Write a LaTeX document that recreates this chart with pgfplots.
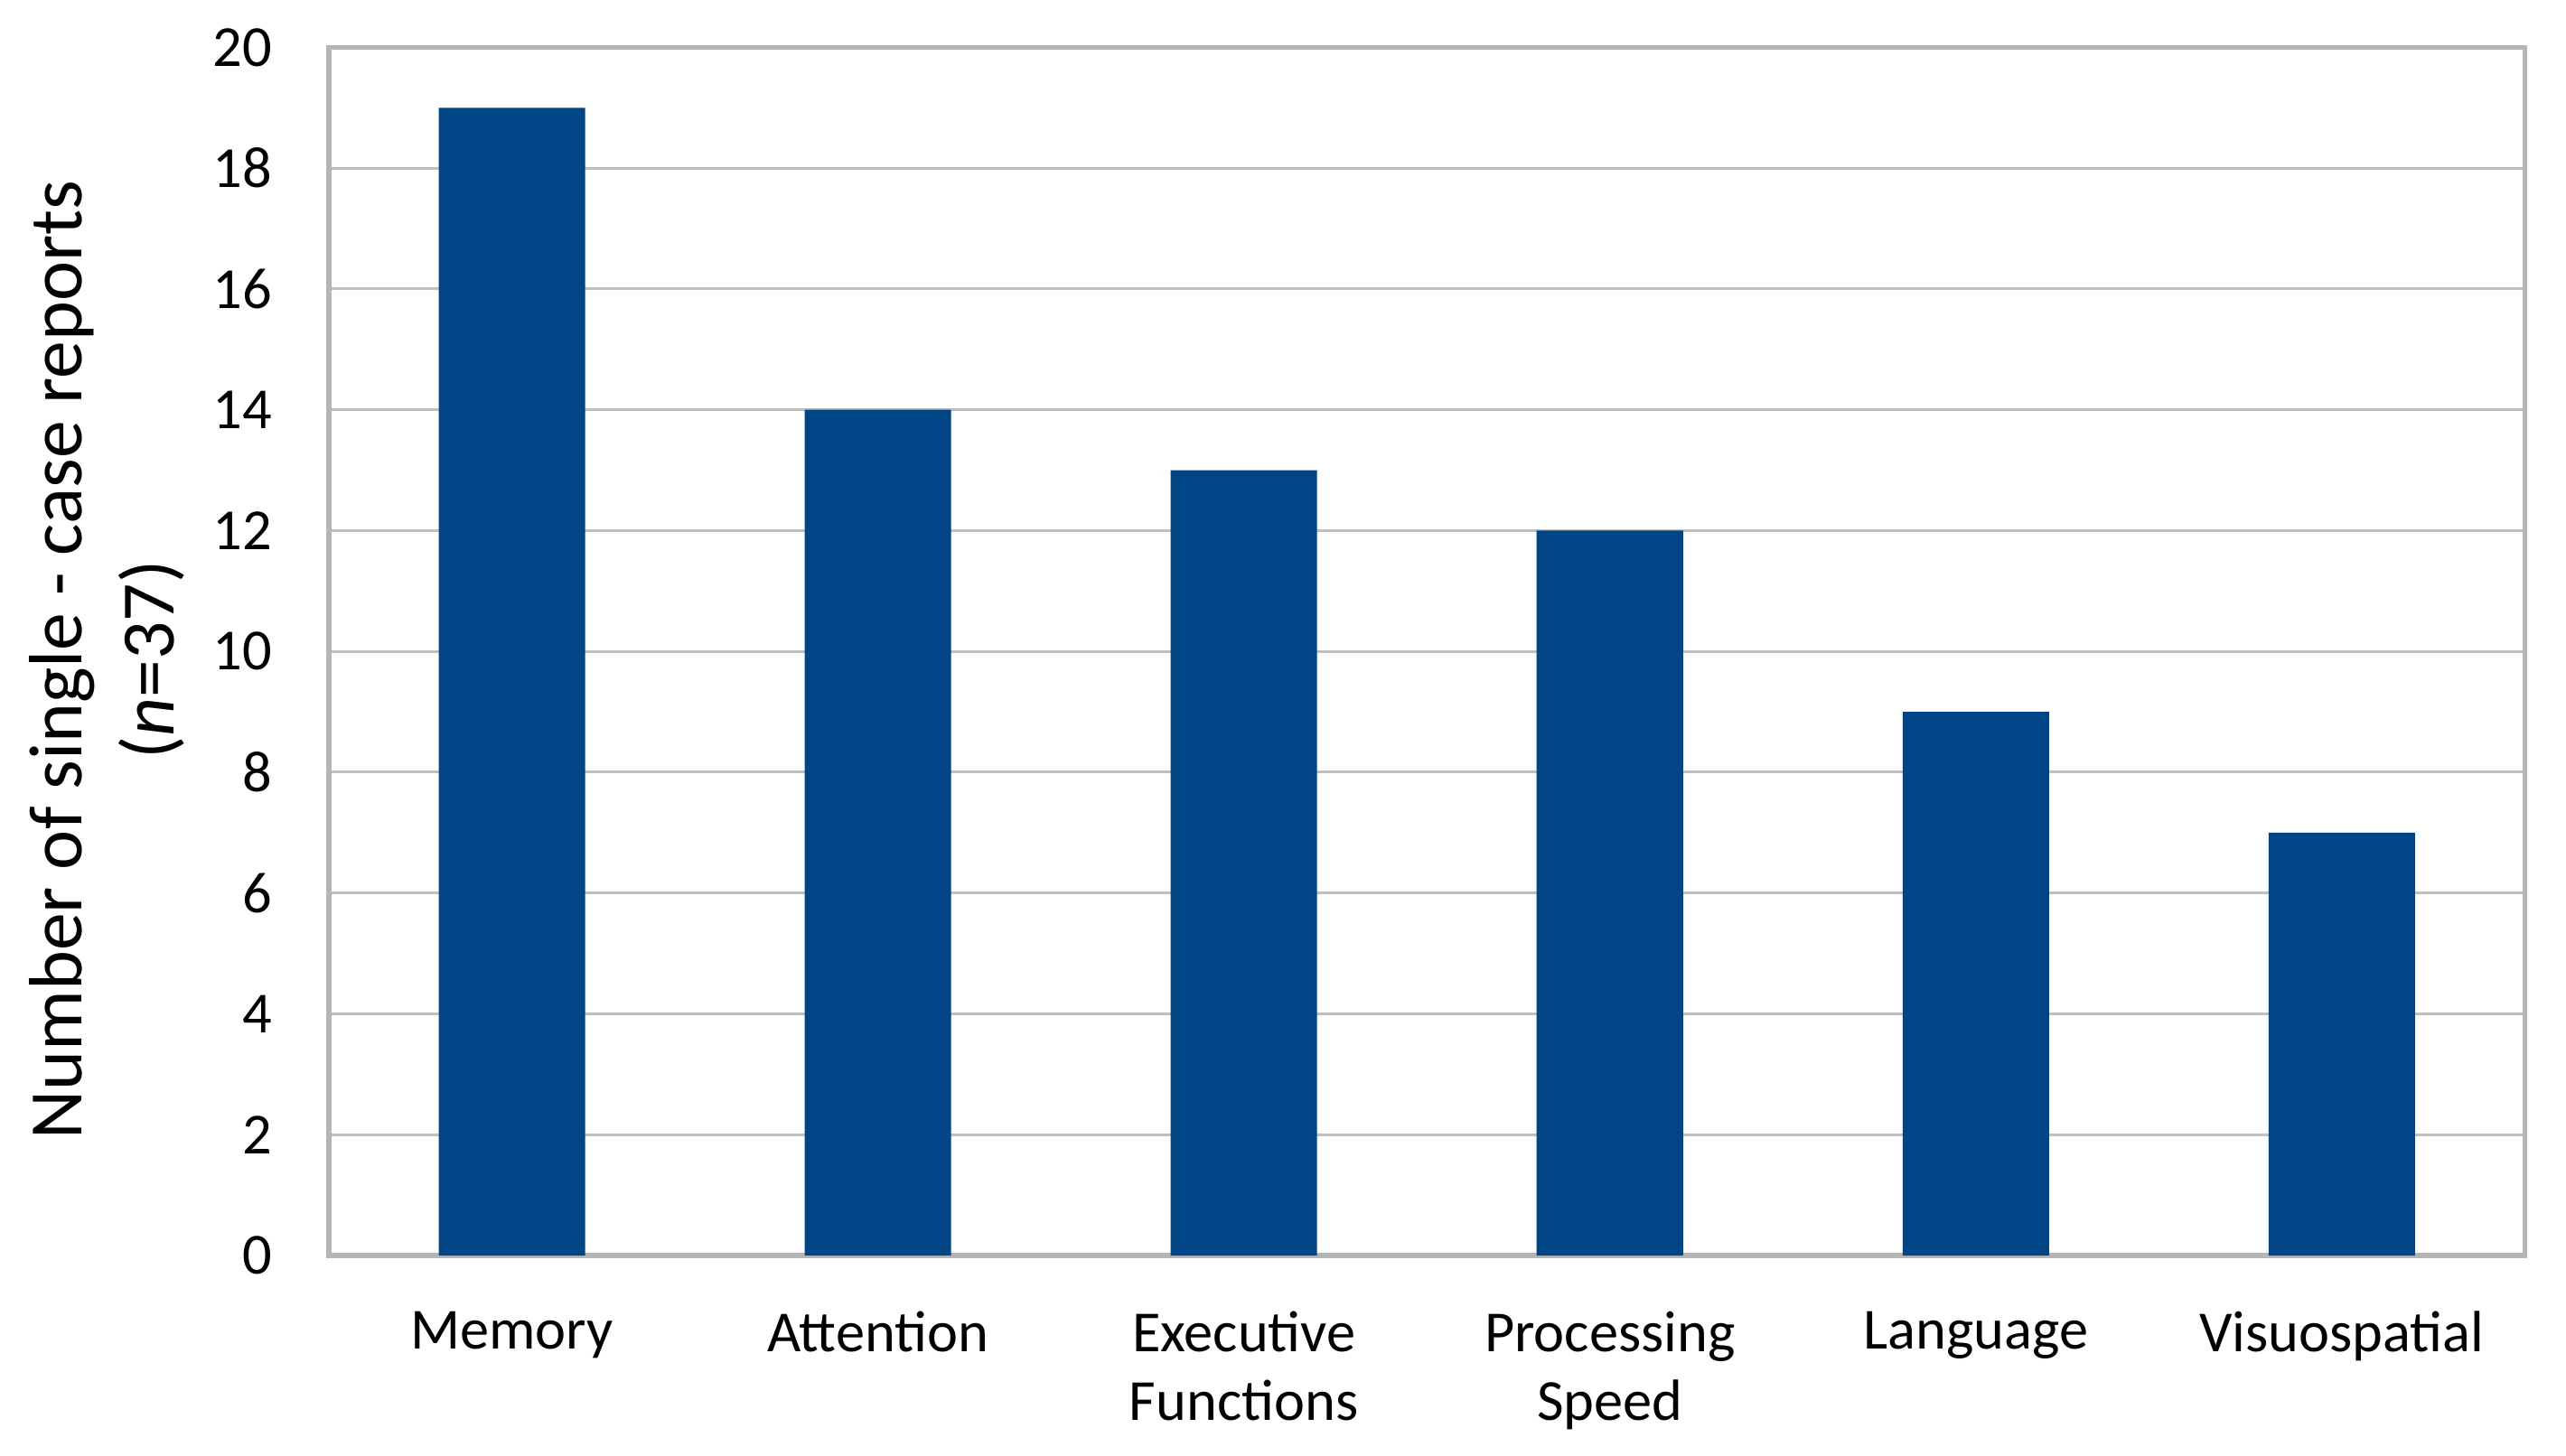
\documentclass[border=0pt]{standalone}
\usepackage{pgfplots}
\usepackage{pgfplotstable}
\pgfplotsset{compat=1.18}
\usepackage{fontspec}
\setmainfont{Carlito}

\definecolor{barblue}{HTML}{004586}
\definecolor{gridgray}{HTML}{BFBFBF}
\definecolor{framegray}{HTML}{B5B5B5}

\pgfplotstableread{
x y
0 19
1 14
2 13
3 12
4 9
5 7
}\reports

\begin{document}
\begin{tikzpicture}
\begin{axis}[
  at={(0,0)}, anchor=south west,
  scale only axis, width=607.6pt, height=334.4pt,
  set layers,
  axis line style={framegray, line width=1.4pt, on layer=axis foreground},
  xmin=-0.5, xmax=5.5, ymin=0, ymax=20,
  xtick=data,
  xticklabels={Memory, Attention, Executive\\Functions, Processing\\Speed, Language, Visuospatial},
  ytick={0,2,...,20},
  major tick length=0pt,
  ymajorgrids, grid style={gridgray, line width=0.75pt},
  font=\fontsize{16.1}{19}\selectfont,
  /pgf/number format/assume math mode=true,
  yticklabel style={inner sep=0pt, xshift=-15.5pt},
  xticklabel style={align=center, inner sep=0pt, yshift=-15.3pt},
  ylabel={Number of single - case reports\\(\textit{n}=37)},
  ylabel style={align=center, font=\fontsize{20.9}{25.5}\selectfont,
    at={(axis description cs:-0.0704,0.493)}, anchor=base},
]
\addplot[ybar, bar width=0.4, fill=barblue, draw=none] table[x=x, y=y] {\reports};
\end{axis}
\pgfresetboundingbox
\useasboundingbox (-91pt,-55.25pt) rectangle (619pt,347.5pt);
\end{tikzpicture}
\end{document}
